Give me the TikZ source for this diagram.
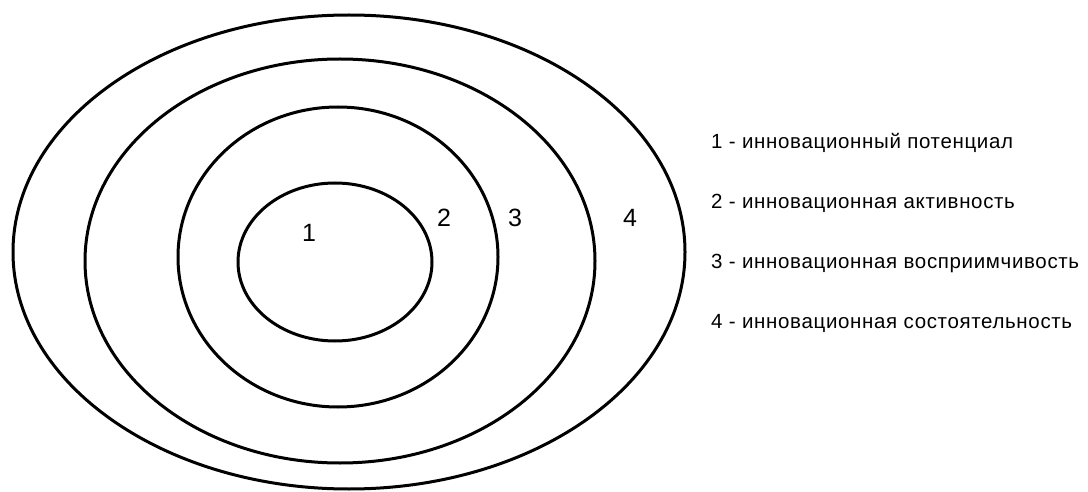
\documentclass[tikz,border=0pt]{standalone}
\usepackage{fontspec}
\setmainfont{Liberation Sans}
\newfontfamily\legendfont[LetterSpace=3.2]{Liberation Sans}
\begin{document}
\begin{tikzpicture}[x=1pt,y=-1pt,
  ring/.style={line width=3pt,draw=black},
  numlabel/.style={anchor=base west,inner sep=0pt,font=\fontsize{25}{30}\selectfont},
  legendtext/.style={anchor=base west,inner sep=0pt,font=\legendfont\fontsize{20.5}{24}\selectfont}]
\useasboundingbox (0,0) rectangle (1088,492);
% rings
\draw[ring] (349,252) ellipse [x radius=336, y radius=237];
\draw[ring] (340,261) ellipse [x radius=255, y radius=202];
\draw[ring] (338,257) ellipse [x radius=160, y radius=150];
\draw[ring] (335,262) ellipse [x radius=97, y radius=79];
% ring labels
\node[numlabel] (l1) at (302,241) {1};
\node[numlabel] (l2) at (437,226) {2};
\node[numlabel] (l3) at (508,226) {3};
\node[numlabel] (l4) at (623,226) {4};
% legend
\node[legendtext] (g1) at (711,149) {1 - инновационный потенциал};
\node[legendtext] (g2) at (711,209) {2 - инновационная активность};
\node[legendtext] (g3) at (711,269) {3 - инновационная восприимчивость};
\node[legendtext] (g4) at (711,328) {4 - инновационная состоятельность};
\end{tikzpicture}
\end{document}
